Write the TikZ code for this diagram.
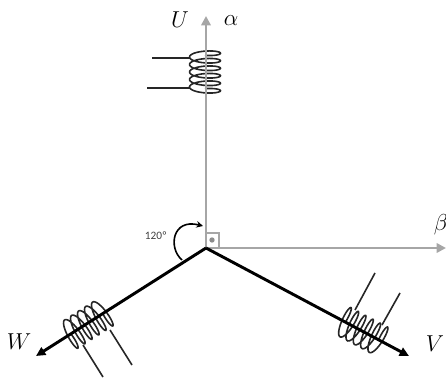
\documentclass[tikz,border=0pt]{standalone}
\usepackage{fontspec}
\newfontfamily\anglefont{Carlito}
\usetikzlibrary{arrows.meta}
\tikzset{
    axisline/.style={draw=black!35, line width=2.1pt, -{Triangle[length=7pt,width=7pt]}},
    phaseline/.style={draw=black, line width=2.2pt, -{Triangle[length=7pt,width=6.5pt]}},
    leadline/.style={draw=black!85, line width=1.2pt},
    coilline/.style={draw=black!85, line width=1.2pt},
    axislabel/.style={font=\fontsize{18}{20}\selectfont, inner sep=0pt},
    coil/.pic={\draw[coilline] plot[domain=0:1980, samples=160, smooth, variable=\t] ({\t/360*#1-2.75*#1+4*cos(\t)},{15.5*sin(\t)});}
}
\begin{document}
\begin{tikzpicture}[x=0.75pt,y=0.75pt]
    \useasboundingbox (0,0) rectangle (446,378);

    % Points of the star
    \coordinate (center) at (206,130);
    \coordinate (alphaend) at (206,362);
    \coordinate (betaend) at (446,130);
    \coordinate (vend) at (409,22);
    \coordinate (wend) at (36,22);

    % Coils
    \pic[rotate=-90] at (205,306) {coil=7.5};
    \pic[rotate=-28] at (362,47) {coil=8.3};
    \pic[rotate=212.5] at (87,54) {coil=8.3};

    % Leads of U
    \coordinate (ua) at (152,320);
    \coordinate (ub) at (190,320);
    \coordinate (uc) at (147,290);
    \coordinate (ud) at (190,290);
    \draw[leadline] (ua) -- (ub);
    \draw[leadline] (uc) -- (ud);

    % Leads of V
    \coordinate (va) at (375,105);
    \coordinate (vb) at (355,68);
    \coordinate (vc) at (400,85);
    \coordinate (vd) at (382,53);
    \draw[leadline] (va) -- (vb);
    \draw[leadline] (vc) -- (vd);

    % Leads of W
    \coordinate (wa) at (103,1);
    \coordinate (wb) at (83,33);
    \coordinate (wc) at (132,13);
    \coordinate (wd) at (110,48);
    \draw[leadline] (wa) -- (wb);
    \draw[leadline] (wc) -- (wd);

    % Axes
    \draw[axisline] (center) -- (alphaend);
    \draw[axisline] (center) -- (betaend);
    \draw[phaseline] (center) -- (vend);
    \draw[phaseline] (center) -- (wend);

    % Right angle mark
    \draw[draw=black!35, line width=2pt] (206,145) -- (219,145) -- (219,130);
    \node[circle, fill=black!45, inner sep=0pt, minimum size=4pt] (dotmark) at (212,138) {};

    % Angle between phases
    \coordinate (arca) at (182,118);
    \coordinate (arcb) at (203,152);
    \draw[line width=1.2pt, -{Stealth[length=5pt,width=5pt]}] (arca) .. controls (168,130) and (172,160) .. (arcb);
    \node[font=\anglefont\fontsize{8.5}{10}\selectfont, text=black!75, inner sep=0pt] (anglelabel) at (156,142) {120º};

    % Labels
    \node[axislabel] (ulabel) at (180,358) {$U$};
    \node[axislabel] (alphalabel) at (231,357) {$\alpha$};
    \node[axislabel] (betalabel) at (441,153) {$\beta$};
    \node[axislabel] (vlabel) at (435,34) {$V$};
    \node[axislabel] (wlabel) at (19,36) {$W$};

\end{tikzpicture}
\end{document}
